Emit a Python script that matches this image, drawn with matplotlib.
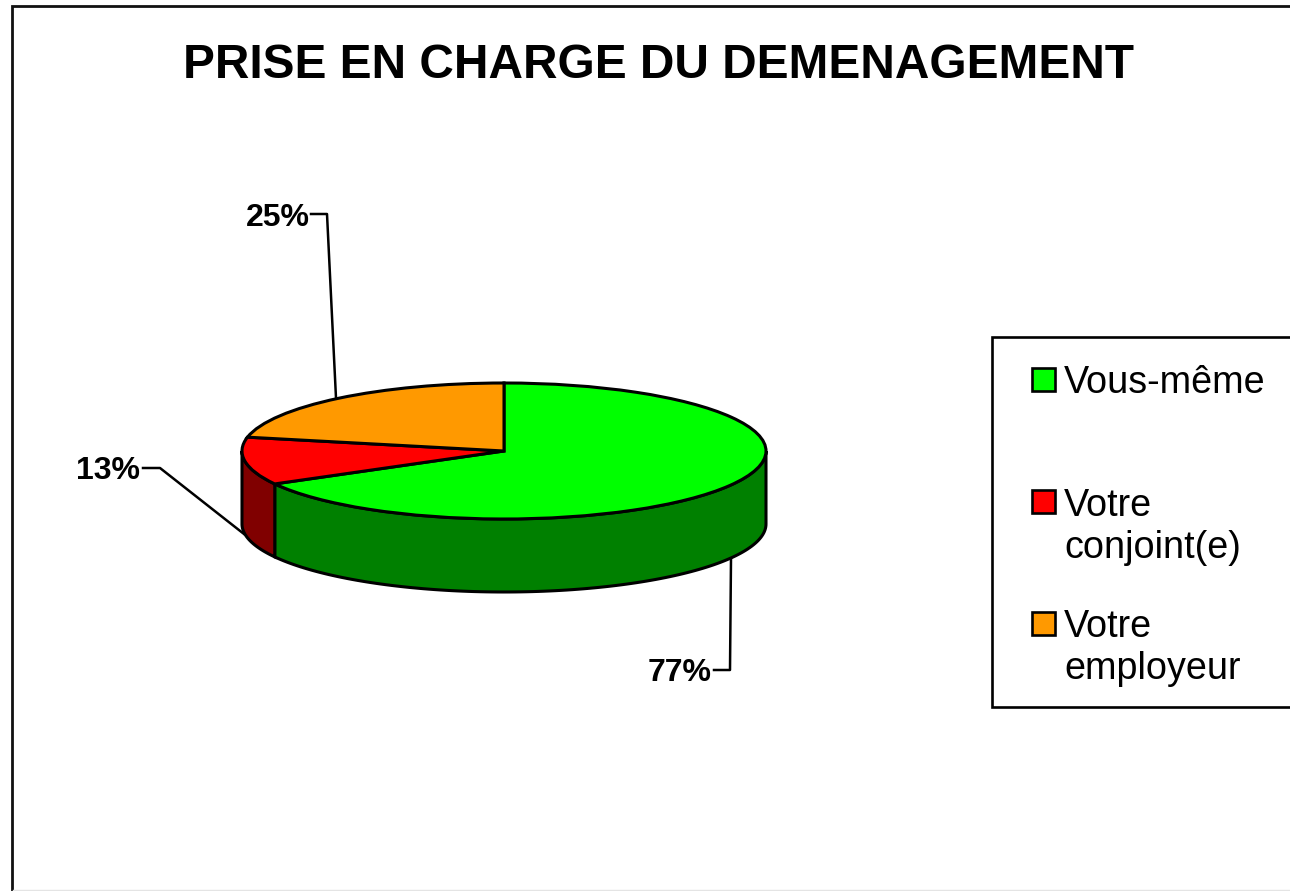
import matplotlib
matplotlib.use('Agg')
import matplotlib.pyplot as plt
from matplotlib.patches import Polygon, Rectangle
import numpy as np

plt.rcParams['font.family'] = ['Liberation Sans', 'DejaVu Sans']

labels = ['Vous-même', 'Votre\nconjoint(e)', 'Votre\nemployeur']
values = [77, 13, 25]
top_colors = ['#00ff00', '#ff0000', '#ff9900']
side_colors = ['#008000', '#800000', '#804d00']

W, H = 1290, 891
fig = plt.figure(figsize=(W / 100, H / 100), dpi=100, facecolor='white')

# fond en pixels : cadre, titre, legende, traits de rappel
bg = fig.add_axes([0, 0, 1, 1])
bg.set_xlim(0, W)
bg.set_ylim(H, 0)
bg.axis('off')

bg.plot([W, 11.5, 11.5], [6, 6, H], color='#111111', lw=2, solid_joinstyle='miter')
bg.plot([13, W], [890, 890], color='#e4e4e4', lw=1)

bg.text(658.5, 66, 'PRISE EN CHARGE DU DEMENAGEMENT', fontsize=34.4, fontweight='bold',
        ha='center', va='center', color='black')

bg.add_patch(Rectangle((992, 337), 320, 370, fc='white', ec='black', lw=1.9))

legend_y = [383, 527, 648]
for lab, col, y, sq in zip(labels, top_colors, legend_y, [379, 501, 623]):
    bg.add_patch(Rectangle((1031.5, sq - 11.5), 23, 23, fc=col, ec='black', lw=1.9))
    bg.text(1064, y, lab, fontsize=27.2, ha='left', va='center', color='black', linespacing=1.22)

# traits de rappel
bg.plot([143, 160, 244], [468, 468, 534], color='black', lw=1.8)
bg.plot([311, 327, 336], [214, 214, 398], color='black', lw=1.8)
bg.plot([714, 730, 731], [670, 670, 558], color='black', lw=1.8)

bg.text(140, 471, f'{values[1]}%', fontsize=23, fontweight='bold', ha='right', va='center')
bg.text(309.5, 218, f'{values[2]}%', fontsize=23, fontweight='bold', ha='right', va='center')
bg.text(711.5, 673, f'{values[0]}%', fontsize=23, fontweight='bold', ha='right', va='center')

# camembert : rayon 1, ecrase par la forme de l'axe
depth = 73 / 68
left, right, top, bottom = 242, 766, 383, 519 + 73
ax = fig.add_axes([left / W, 1 - bottom / H, (right - left) / W, (bottom - top) / H])
ax.patch.set_alpha(0)

fracs = np.array(values) / sum(values)
edges = 90 - 360 * np.concatenate([[0], np.cumsum(fracs)])

for i in range(len(values)):
    # partie visible du flanc : moitie basse de l'ellipse
    a0, a1 = max(edges[i + 1], -180), min(edges[i], 0)
    if a1 > a0:
        t = np.radians(np.linspace(a0, a1, 120))
        x, y = np.cos(t), np.sin(t)
        pts = np.column_stack([np.r_[x, x[::-1]], np.r_[y, y[::-1] - depth]])
        ax.add_patch(Polygon(pts, closed=True, fc=side_colors[i], ec='black', lw=2.2, clip_on=False))

wedges, _ = ax.pie(values, colors=top_colors, startangle=90, counterclock=False, radius=1,
                   wedgeprops=dict(edgecolor='black', linewidth=2.2, clip_on=False))
ax.set_aspect('auto')
ax.set_xlim(-1, 1)
ax.set_ylim(-1 - depth, 1)

fig.savefig('out.png', dpi=100, facecolor='white')
